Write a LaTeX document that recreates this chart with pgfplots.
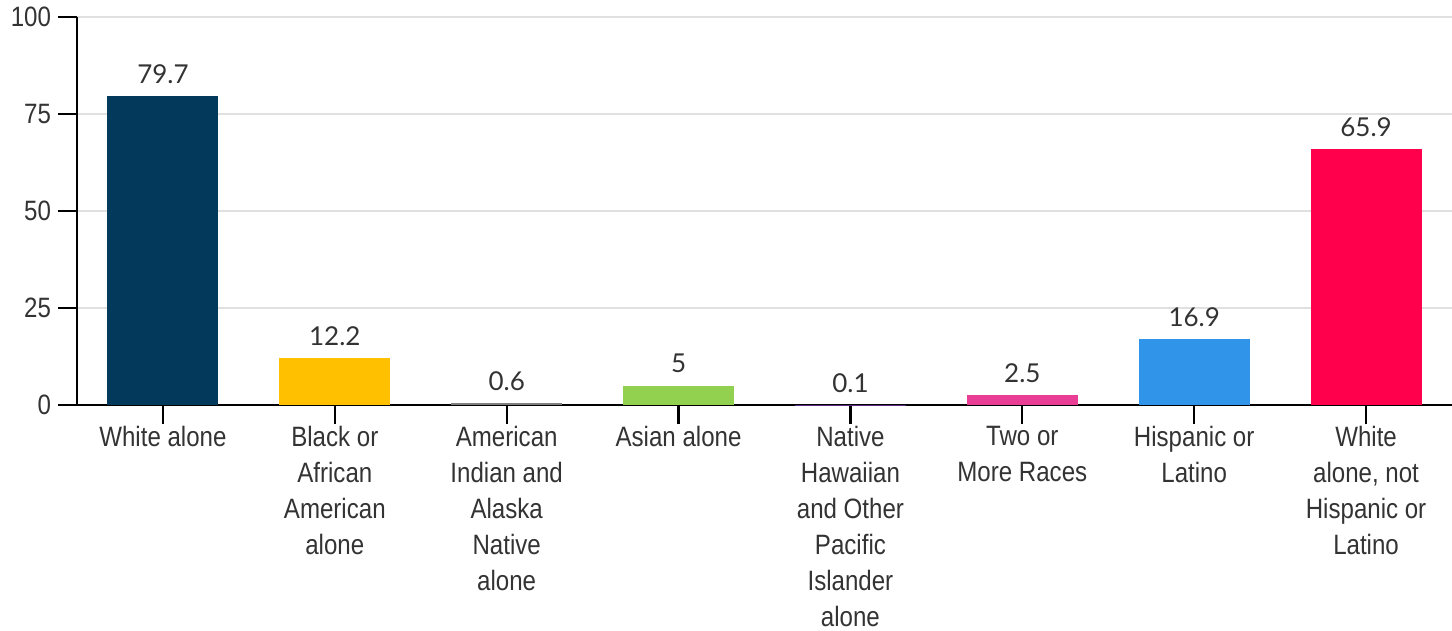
\documentclass[border=0pt]{standalone}
\usepackage{fontspec}
\usepackage{pgfplots}
\pgfplotsset{compat=1.18}

% condensed sans for axis text, Lato for the value labels
\newfontfamily\condfont[FakeStretch=0.86]{Liberation Sans}
\newfontfamily\valfont{Lato}

\definecolor{cNavy}{RGB}{3,58,92}
\definecolor{cYellow}{RGB}{255,192,0}
\definecolor{cGray}{RGB}{127,127,127}
\definecolor{cGreen}{RGB}{146,208,80}
\definecolor{cPurple}{RGB}{91,44,134}
\definecolor{cPink}{RGB}{232,62,150}
\definecolor{cBlue}{RGB}{48,149,232}
\definecolor{cRed}{RGB}{255,0,76}
\definecolor{gridgray}{RGB}{224,224,224}
\definecolor{labelgray}{RGB}{51,51,51}

\begin{document}
\begin{tikzpicture}
\begin{axis}[
  at={(0,0)}, anchor=south west,
  width=687.5pt, height=194pt, scale only axis,
  xmin=-0.5, xmax=7.5, ymin=0, ymax=100,
  ytick={0,25,50,75,100},
  xtick={0,...,7},
  xticklabels={
    White alone,
    Black or\\African\\American\\alone,
    American\\Indian and\\Alaska\\Native\\alone,
    Asian alone,
    Native\\Hawaiian\\and Other\\Pacific\\Islander\\alone,
    Two or\\More Races,
    Hispanic or\\Latino,
    White\\alone{,} not\\Hispanic or\\Latino},
  axis x line*=bottom, axis y line*=left,
  axis line style={-, black, line width=1.1pt},
  ymajorgrids, grid style={gridgray, line width=0.8pt},
  tick align=outside, major tick length=9.5pt,
  tick style={black, line width=1.1pt},
  /pgf/number format/assume math mode=true,
  yticklabel style={font=\condfont\fontsize{14}{16}\selectfont, text=labelgray},
  xticklabel style={font=\condfont\fontsize{14}{18}\selectfont, align=center,
                    text=labelgray, inner sep=1pt},
  ybar, bar width=55.5pt, bar shift=0pt,
  nodes near coords,
  nodes near coords style={font=\valfont\fontsize{13}{15}\selectfont,
                           text=labelgray, inner sep=0pt, yshift=6pt},
  clip=false,
]
\addplot[fill=cNavy,   draw=none] coordinates {(0,79.7)};
\addplot[fill=cYellow, draw=none] coordinates {(1,12.2)};
\addplot[fill=cGray,   draw=none] coordinates {(2,0.6)};
\addplot[fill=cGreen,  draw=none] coordinates {(3,5)};
\addplot[fill=cPurple, draw=none] coordinates {(4,0.1)};
\addplot[fill=cPink,   draw=none] coordinates {(5,2.5)};
\addplot[fill=cBlue,   draw=none] coordinates {(6,16.9)};
\addplot[fill=cRed,    draw=none] coordinates {(7,65.9)};
\end{axis}
\pgfresetboundingbox
\useasboundingbox (-38.5pt,-113pt) rectangle (687.5pt,202.5pt);
\end{tikzpicture}
\end{document}
